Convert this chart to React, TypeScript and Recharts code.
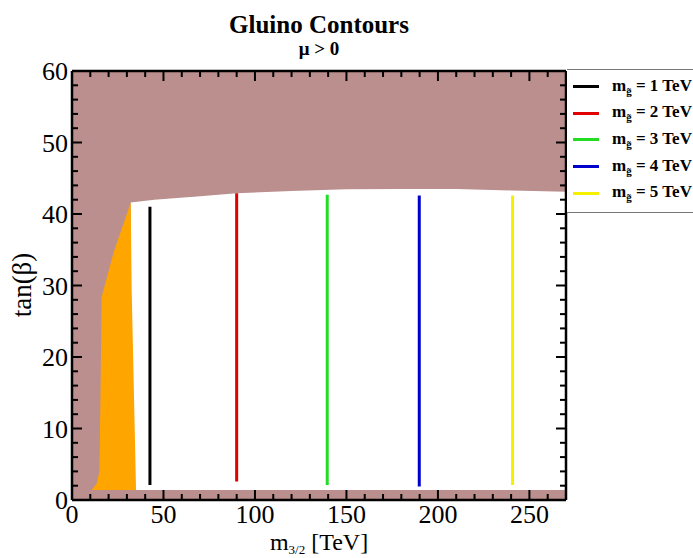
import React from "react";
import {
  ComposedChart,
  Area,
  Line,
  XAxis,
  YAxis,
  CartesianGrid,
  Legend,
} from "recharts";

const SERIF = '"Liberation Serif", "DejaVu Serif", serif';
const ROSY = "#bc8f8f";

// upper edge of the allowed region (white)
const edgeM32 = [32.1, 45, 70, 90, 120, 150, 180, 210, 240, 270];
const edgeTanB = [41.6, 42.0, 42.5, 42.9, 43.2, 43.45, 43.5, 43.5, 43.3, 43.1];
const edgeFloor = 1.4;

// orange band on the left
const orangeM32 = [10.8, 13.5, 15.0, 15.6, 16.2, 22.6, 32.1, 32.6, 35.0];
const orangeTop = [1.4, 2.3, 4, 15, 28.4, 34.5, 41.6, 29.6, 1.4];

// gluino mass contours
const gluinoMasses = ["1", "2", "3", "4", "5"];
const gluinoColors = ["#000000", "#e00000", "#22dd22", "#0000cc", "#f5f000"];
const contourM32 = [42.6, 90.0, 139.5, 189.8, 240.8];
const contourLow = [2.1, 2.6, 2.1, 1.9, 2.1];
const contourHigh = [41.0, 42.9, 42.7, 42.6, 42.6];

const xTicks = Array.from({ length: 27 }, (_, i) => i * 10);
const yTicks = Array.from({ length: 31 }, (_, i) => i * 2);

const allowedData = edgeM32.map((m, i) => ({ m, band: [edgeFloor, edgeTanB[i]] }));
const orangeData = orangeM32.map((m, i) => ({ m, band: [edgeFloor, orangeTop[i]] }));
const contourData = contourM32.map((m, i) => [
  { m, tb: contourLow[i] },
  { m, tb: contourHigh[i] },
]);

const tickFont = { fontFamily: SERIF, fontSize: 26, fill: "#000" };

const BottomTick = (props: any) => {
  const { x, y, payload } = props;
  const major = payload.value % 50 === 0;
  return (
    <g>
      <line x1={x} x2={x} y1={y} y2={y - (major ? 10 : 6)} stroke="#000" strokeWidth={2} />
      {major && (
        <text x={x} y={y + 23} textAnchor="middle" {...tickFont}>
          {payload.value}
        </text>
      )}
    </g>
  );
};

const TopTick = (props: any) => {
  const { x, y, payload } = props;
  const major = payload.value % 50 === 0;
  return <line x1={x} x2={x} y1={y} y2={y + (major ? 10 : 6)} stroke="#000" strokeWidth={2} />;
};

const LeftTick = (props: any) => {
  const { x, y, payload } = props;
  const major = payload.value % 10 === 0;
  return (
    <g>
      <line x1={x} x2={x + (major ? 10 : 6)} y1={y} y2={y} stroke="#000" strokeWidth={2} />
      {major && (
        <text x={x - 4} y={y + 9} textAnchor="end" {...tickFont}>
          {payload.value}
        </text>
      )}
    </g>
  );
};

const RightTick = (props: any) => {
  const { x, y, payload } = props;
  const major = payload.value % 10 === 0;
  return <line x1={x} x2={x - (major ? 10 : 6)} y1={y} y2={y} stroke="#000" strokeWidth={2} />;
};

const GluinoLegend = () => (
  <div
    style={{
      boxSizing: "border-box",
      width: 126,
      height: 144,
      paddingTop: 3,
      background: "#fff",
      borderTop: "1.5px solid #777",
      borderBottom: "1.5px solid #777",
      overflow: "hidden",
      whiteSpace: "nowrap",
    }}
  >
    {gluinoMasses.map((mass, i) => (
      <div key={mass} style={{ display: "flex", alignItems: "center", height: 26.7 }}>
        <span
          style={{ display: "inline-block", width: 26, height: 3, marginLeft: 6, background: gluinoColors[i] }}
        />
        <span
          style={{ marginLeft: 13, fontFamily: SERIF, fontWeight: "bold", fontSize: 17, color: "#000" }}
        >
          m<sub style={{ fontSize: 11 }}>g̃</sub> = {mass} TeV
        </span>
      </div>
    ))}
  </div>
);

const axisStroke = { stroke: "#000", strokeWidth: 2.5 };

export default function App() {
  return (
    <div
      style={{
        position: "absolute",
        left: 0,
        top: 0,
        width: 693,
        height: 558,
        overflow: "hidden",
        background: "#fff",
      }}
    >
      <div
        style={{
          position: "absolute",
          left: 72,
          width: 494,
          top: 12,
          textAlign: "center",
          fontFamily: SERIF,
          fontWeight: "bold",
          color: "#000",
          lineHeight: 1,
        }}
      >
        <div style={{ fontSize: 25 }}>Gluino Contours</div>
        <div style={{ fontSize: 19, marginTop: 2 }}>μ &gt; 0</div>
      </div>

      <ComposedChart
        width={693}
        height={558}
        margin={{ top: 70, right: 126, bottom: 57, left: 71 }}
      >
        <CartesianGrid fill={ROSY} fillOpacity={1} horizontal={false} vertical={false} />
        <XAxis
          xAxisId="bottom"
          dataKey="m"
          type="number"
          domain={[0, 270]}
          ticks={xTicks}
          interval={0}
          height={1}
          tickSize={0}
          tickMargin={0}
          tickLine={false}
          tick={<BottomTick />}
          axisLine={axisStroke}
          allowDataOverflow
        />
        <XAxis
          xAxisId="top"
          orientation="top"
          dataKey="m"
          type="number"
          domain={[0, 270]}
          ticks={xTicks}
          interval={0}
          height={1}
          tickSize={0}
          tickMargin={0}
          tickLine={false}
          tick={<TopTick />}
          axisLine={axisStroke}
          allowDataOverflow
        />
        <YAxis
          yAxisId="left"
          type="number"
          domain={[0, 60]}
          ticks={yTicks}
          interval={0}
          width={1}
          tickSize={0}
          tickMargin={0}
          tickLine={false}
          tick={<LeftTick />}
          axisLine={axisStroke}
          allowDataOverflow
        />
        <YAxis
          yAxisId="right"
          orientation="right"
          type="number"
          domain={[0, 60]}
          ticks={yTicks}
          interval={0}
          width={1}
          tickSize={0}
          tickMargin={0}
          tickLine={false}
          tick={<RightTick />}
          axisLine={axisStroke}
          allowDataOverflow
        />

        <Area
          xAxisId="bottom"
          yAxisId="left"
          data={allowedData}
          dataKey="band"
          type="linear"
          stroke="none"
          fill="#ffffff"
          fillOpacity={1}
          legendType="none"
          isAnimationActive={false}
        />
        <Area
          xAxisId="bottom"
          yAxisId="left"
          data={orangeData}
          dataKey="band"
          type="linear"
          stroke="none"
          fill="#ffa500"
          fillOpacity={1}
          legendType="none"
          isAnimationActive={false}
        />
        {contourData.map((pts, i) => (
          <Line
            key={gluinoMasses[i]}
            xAxisId="bottom"
            yAxisId="left"
            data={pts}
            dataKey="tb"
            name={`${gluinoMasses[i]} TeV`}
            type="linear"
            stroke={gluinoColors[i]}
            strokeWidth={3}
            dot={false}
            activeDot={false}
            isAnimationActive={false}
          />
        ))}
        <Legend
          layout="vertical"
          align="center"
          verticalAlign="middle"
          content={<GluinoLegend />}
          wrapperStyle={{ left: 567, top: 69, width: 126, height: 144 }}
        />
      </ComposedChart>

      <div
        style={{
          position: "absolute",
          left: 22,
          top: 285,
          transform: "translate(-50%, -50%) rotate(-90deg)",
          fontFamily: SERIF,
          fontSize: 27,
          color: "#000",
          whiteSpace: "nowrap",
        }}
      >
        tan(β)
      </div>
      <div
        style={{
          position: "absolute",
          left: 72,
          width: 494,
          top: 530,
          textAlign: "center",
          fontFamily: SERIF,
          fontSize: 24,
          color: "#000",
          whiteSpace: "nowrap",
          lineHeight: 1,
        }}
      >
        m<span style={{ fontSize: 13, position: "relative", top: 4 }}>3/2</span> [TeV]
      </div>
    </div>
  );
}
